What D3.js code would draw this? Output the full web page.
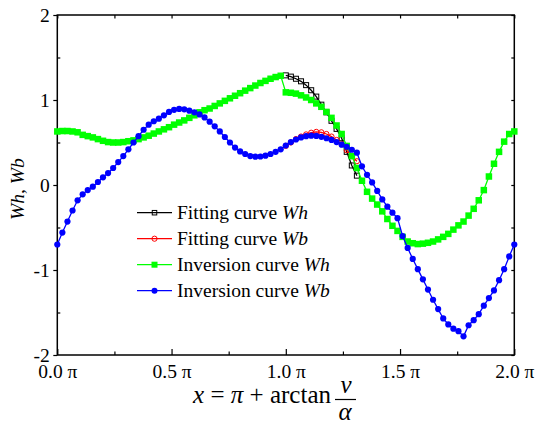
<!DOCTYPE html>
<html>
<head>
<meta charset="utf-8">
<script src="https://cdn.jsdelivr.net/npm/d3@7/dist/d3.min.js"></script>
<style>
	body { margin: 0; background: #fff; }
	svg text { font-family: 'Liberation Serif', 'Times New Roman', serif; fill: #000; }
</style>
</head>
<body>
<div id="chart"></div>
<script>
/* global d3 */

// sampling step of the curves, in units of pi (4 degrees)
var STEP = 1 / 45;

// inversion curves, 0 .. 2 pi
var inversionWh = [
	0.63, 0.635, 0.635, 0.63, 0.62, 0.59, 0.575, 0.56, 0.54, 0.52,
	0.505, 0.5, 0.5, 0.505, 0.515, 0.525, 0.54, 0.56, 0.58, 0.605,
	0.63, 0.655, 0.68, 0.71, 0.735, 0.76, 0.79, 0.82, 0.855, 0.88,
	0.9, 0.93, 0.96, 0.99, 1.02, 1.05, 1.08, 1.11, 1.14, 1.17,
	1.2, 1.225, 1.25, 1.27, 1.285, 1.09, 1.085, 1.075, 1.055, 1.03,
	1.0, 0.96, 0.92, 0.86, 0.79, 0.7, 0.6, 0.46, 0.34, 0.2,
	0.05, -0.08, -0.16, -0.23, -0.31, -0.4, -0.48, -0.54, -0.61, -0.665,
	-0.685, -0.695, -0.69, -0.68, -0.665, -0.64, -0.61, -0.575, -0.525, -0.475,
	-0.43, -0.36, -0.28, -0.18, -0.06, 0.1, 0.25, 0.39, 0.51, 0.6,
	0.63
];

var inversionWb = [
	-0.7, -0.56, -0.43, -0.3, -0.18, -0.11, -0.06, -0.02, 0.035, 0.09,
	0.14, 0.2, 0.27, 0.34, 0.42, 0.5, 0.575, 0.65, 0.71, 0.75,
	0.78, 0.82, 0.86, 0.885, 0.895, 0.89, 0.875, 0.855, 0.83, 0.795,
	0.745, 0.69, 0.63, 0.565, 0.5, 0.44, 0.395, 0.365, 0.34, 0.333,
	0.335, 0.345, 0.365, 0.39, 0.42, 0.465, 0.505, 0.535, 0.56, 0.575,
	0.58, 0.577, 0.567, 0.55, 0.53, 0.505, 0.475, 0.45, 0.415, 0.38,
	0.22, 0.12, 0.03, -0.07, -0.17, -0.255, -0.325, -0.39, -0.6, -0.74,
	-0.87, -0.99, -1.11, -1.23, -1.35, -1.46, -1.57, -1.64, -1.69, -1.72,
	-1.78, -1.65, -1.59, -1.52, -1.42, -1.33, -1.24, -1.12, -0.99, -0.84,
	-0.7
];

// fitting curves start at 1.0 pi
var FIT_START = 1.0;
var fittingWh = [1.29, 1.275, 1.25, 1.22, 1.175, 1.115, 1.04, 0.945, 0.855, 0.755, 0.66, 0.55, 0.39, 0.23, 0.11];
var fittingWb = [0.46, 0.5, 0.54, 0.57, 0.595, 0.615, 0.625, 0.62, 0.6, 0.57, 0.53, 0.48, 0.41, 0.34, 0.28];

var xTicks = [0, 0.5, 1, 1.5, 2];
var xTickLabels = ['0.0', '0.5', '1.0', '1.5', '2.0'];
var xMinorTicks = [0.25, 0.75, 1.25, 1.75];
var yTicks = [-2, -1, 0, 1, 2];
var yMinorTicks = [-1.5, -0.5, 0.5, 1.5];

var seriesNames = ['Fitting curve ', 'Fitting curve ', 'Inversion curve ', 'Inversion curve '];
var seriesVars = ['Wh', 'Wb', 'Wh', 'Wb'];

(function () {
	'use strict';

	var W = 536, H = 432;
	var frame = {left: 57.3, right: 514.3, top: 15, bottom: 355};

	var x = d3.scaleLinear().domain([0, 2]).range([frame.left, frame.right]);
	var y = d3.scaleLinear().domain([-2, 2]).range([frame.bottom, frame.top]);

	function toPoints(values, start) {
		return values.map(function (v, i) { return {x: start + i * STEP, y: v}; });
	}

	var series = [
		{pts: toPoints(fittingWh, FIT_START), color: '#000000', marker: 'square', filled: false, size: 5},
		{pts: toPoints(fittingWb, FIT_START), color: '#ff0000', marker: 'circle', filled: false, size: 2.6},
		{pts: toPoints(inversionWh, 0), color: '#00ff00', marker: 'square', filled: true, size: 6.5},
		{pts: toPoints(inversionWb, 0), color: '#0000ff', marker: 'circle', filled: true, size: 3.1}
	];

	var svg = d3.select('#chart').append('svg')
		.attr('width', W)
		.attr('height', H);

	// axes
	function strip(g) {
		g.select('.domain').remove();
		g.selectAll('line').attr('stroke', '#000').attr('stroke-width', 1.2);
		g.selectAll('text').style('font-size', '19.5px');
	}

	svg.append('g')
		.attr('transform', 'translate(0,' + frame.bottom + ')')
		.call(d3.axisBottom(x).tickValues(xTicks).tickSizeInner(-6).tickSizeOuter(0).tickPadding(9)
			.tickFormat(function (d, i) { return xTickLabels[i] + ' \u03c0'; }))
		.call(strip);
	svg.append('g')
		.attr('transform', 'translate(0,' + frame.bottom + ')')
		.call(d3.axisBottom(x).tickValues(xMinorTicks).tickSizeInner(-3.5).tickSizeOuter(0).tickFormat(''))
		.call(strip);
	svg.append('g')
		.attr('transform', 'translate(0,' + frame.top + ')')
		.call(d3.axisTop(x).tickValues(xTicks.concat(xMinorTicks)).tickSizeInner(-3.5).tickSizeOuter(0).tickFormat(''))
		.call(strip);

	svg.append('g')
		.attr('transform', 'translate(' + frame.left + ',0)')
		.call(d3.axisLeft(y).tickValues(yTicks).tickSizeInner(4).tickSizeOuter(0).tickPadding(3.5)
			.tickFormat(function (d) { return String(d); }))
		.call(strip);
	svg.append('g')
		.attr('transform', 'translate(' + frame.left + ',0)')
		.call(d3.axisLeft(y).tickValues(yMinorTicks).tickSizeInner(-3).tickSizeOuter(0).tickFormat(''))
		.call(strip);
	svg.append('g')
		.attr('transform', 'translate(' + frame.right + ',0)')
		.call(d3.axisRight(y).tickValues(yTicks.concat(yMinorTicks)).tickSizeInner(-3).tickSizeOuter(0).tickFormat(''))
		.call(strip);

	svg.append('rect')
		.attr('x', frame.left)
		.attr('y', frame.top)
		.attr('width', frame.right - frame.left)
		.attr('height', frame.bottom - frame.top)
		.attr('fill', 'none')
		.attr('stroke', '#000')
		.attr('stroke-width', 1.5);

	// curves
	var line = d3.line()
		.x(function (d) { return x(d.x); })
		.y(function (d) { return y(d.y); });

	function addMarkers(g, s, pts, cx, cy) {
		var sel;
		if (s.marker === 'square') {
			sel = g.selectAll('rect.m').data(pts).enter().append('rect')
				.attr('class', 'm')
				.attr('x', function (d) { return cx(d) - s.size / 2; })
				.attr('y', function (d) { return cy(d) - s.size / 2; })
				.attr('width', s.size)
				.attr('height', s.size);
		} else {
			sel = g.selectAll('circle.m').data(pts).enter().append('circle')
				.attr('class', 'm')
				.attr('cx', cx)
				.attr('cy', cy)
				.attr('r', s.size);
		}
		sel.attr('fill', s.filled ? s.color : 'none')
			.attr('stroke', s.color)
			.attr('stroke-width', s.filled ? 0 : 1);
	}

	series.forEach(function (s) {
		var g = svg.append('g');
		g.append('path')
			.attr('d', line(s.pts))
			.attr('fill', 'none')
			.attr('stroke', s.color)
			.attr('stroke-width', 1.3);
		addMarkers(g, s, s.pts,
			function (d) { return x(d.x); },
			function (d) { return y(d.y); });
	});

	// legend
	var legend = svg.append('g').attr('transform', 'translate(137,212.7)');
	series.forEach(function (s, i) {
		var row = legend.append('g').attr('transform', 'translate(0,' + (i * 26) + ')');
		row.append('line')
			.attr('x1', 0).attr('x2', 35)
			.attr('y1', 0).attr('y2', 0)
			.attr('stroke', s.color)
			.attr('stroke-width', 1.3);
		var ls = {marker: s.marker, color: s.color, filled: s.filled, size: s.marker === 'square' ? (s.filled ? 6 : 4.5) : (s.filled ? 3 : 2.6)};
		addMarkers(row, ls, [0], function () { return 17.5; }, function () { return 0; });
		var t = row.append('text')
			.attr('x', 40)
			.attr('y', 0)
			.attr('dy', '0.33em')
			.style('font-size', '19.5px');
		t.append('tspan').text(seriesNames[i]);
		t.append('tspan').style('font-style', 'italic').text(seriesVars[i]);
	});

	// axis titles
	svg.append('text')
		.attr('transform', 'translate(24,189) rotate(-90)')
		.attr('text-anchor', 'middle')
		.style('font-size', '19.5px')
		.style('font-style', 'italic')
		.text('Wh, Wb');

	var title = svg.append('g').style('font-size', '25px');
	var main = title.append('text')
		.attr('x', 331)
		.attr('y', 403)
		.attr('text-anchor', 'end');
	main.append('tspan').style('font-style', 'italic').text('x');
	main.append('tspan').text(' = ');
	main.append('tspan').style('font-style', 'italic').text('\u03c0');
	main.append('tspan').text(' + arctan');

	title.append('text')
		.attr('x', 346)
		.attr('y', 393)
		.attr('text-anchor', 'middle')
		.style('font-style', 'italic')
		.text('v');
	title.append('line')
		.attr('x1', 335).attr('x2', 356)
		.attr('y1', 399.5).attr('y2', 399.5)
		.attr('stroke', '#000')
		.attr('stroke-width', 1.2);
	title.append('text')
		.attr('x', 345)
		.attr('y', 420)
		.attr('text-anchor', 'middle')
		.style('font-style', 'italic')
		.text('\u03b1');
})();
</script>
</body>
</html>
